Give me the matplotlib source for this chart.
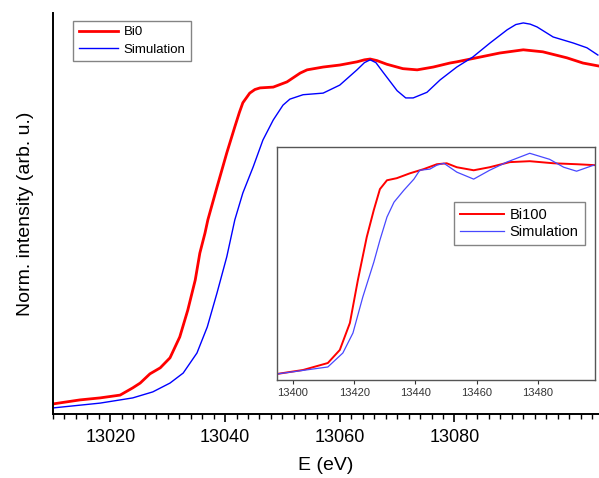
"""Bi L3-edge XANES: Bi0 vs simulation, with Bi100 inset."""

import matplotlib

matplotlib.use("Agg")
import matplotlib.pyplot as plt
import numpy as np

plt.rcParams["font.family"] = ["Liberation Sans", "DejaVu Sans"]

# main panel: Bi0 measured
bi0_e = [13010.0, 13014.7, 13018.2, 13021.7, 13023.9, 13025.2, 13026.9, 13028.7,
         13030.4, 13032.1, 13033.5, 13034.8, 13035.6, 13036.5, 13037.0, 13038.6,
         13040.3, 13041.7, 13042.5, 13043.1, 13044.3, 13045.2, 13046.1, 13048.4,
         13050.8, 13053.1, 13054.3, 13057.1, 13060.0, 13063.0, 13064.3, 13065.3,
         13066.5, 13068.2, 13071.0, 13073.5, 13076.3, 13079.2, 13080.4, 13084.5,
         13087.9, 13092.0, 13095.4, 13099.6, 13102.4, 13105.0]
bi0_i = [0.025, 0.035, 0.040, 0.047, 0.065, 0.077, 0.100, 0.115,
         0.140, 0.192, 0.259, 0.334, 0.401, 0.451, 0.484, 0.566,
         0.651, 0.716, 0.752, 0.776, 0.800, 0.809, 0.813, 0.815,
         0.828, 0.850, 0.858, 0.865, 0.870, 0.878, 0.883, 0.885,
         0.881, 0.872, 0.861, 0.858, 0.865, 0.875, 0.878, 0.890,
         0.900, 0.908, 0.903, 0.888, 0.875, 0.868]

# main panel: simulation
sim0_e = [13010.0, 13018.2, 13023.9, 13027.4, 13030.4, 13032.7, 13035.1, 13036.9,
          13038.6, 13040.3, 13041.7, 13043.1, 13044.9, 13046.6, 13048.4, 13050.1,
          13051.3, 13053.6, 13057.1, 13060.0, 13063.0, 13064.3, 13065.3, 13066.3,
          13067.5, 13070.0, 13071.5, 13072.8, 13075.2, 13077.5, 13080.4, 13083.2,
          13086.2, 13089.2, 13090.7, 13092.0, 13093.2, 13094.4, 13097.2, 13100.7,
          13103.1, 13105.0]
sim0_i = [0.015, 0.027, 0.040, 0.055, 0.077, 0.102, 0.152, 0.217,
          0.302, 0.392, 0.484, 0.551, 0.616, 0.683, 0.733, 0.770,
          0.785, 0.796, 0.800, 0.820, 0.858, 0.876, 0.883, 0.876,
          0.853, 0.806, 0.788, 0.788, 0.802, 0.833, 0.865, 0.890,
          0.925, 0.958, 0.971, 0.975, 0.972, 0.965, 0.940, 0.925,
          0.913, 0.895]

# inset: Bi100 measured
bi100_e = [13394.8, 13403.3, 13411.4, 13415.3, 13418.6, 13421.2, 13424.1, 13426.4,
           13428.4, 13430.7, 13433.9, 13438.2, 13442.7, 13447.0, 13450.2, 13453.5,
           13459.0, 13464.2, 13470.8, 13477.3, 13485.1, 13492.6, 13498.5]
bi100_i = [0.026, 0.043, 0.073, 0.129, 0.245, 0.429, 0.614, 0.730,
           0.820, 0.858, 0.867, 0.888, 0.906, 0.927, 0.931, 0.914,
           0.901, 0.914, 0.936, 0.940, 0.931, 0.927, 0.923]

# inset: simulation
sim100_e = [13394.8, 13411.4, 13416.3, 13419.6, 13422.8, 13426.4, 13428.4, 13430.7,
            13433.0, 13436.2, 13439.5, 13441.4, 13444.7, 13447.0, 13449.3, 13453.5,
            13459.0, 13464.2, 13469.8, 13477.3, 13483.8, 13488.4, 13492.6, 13498.2]
sim100_i = [0.026, 0.056, 0.116, 0.202, 0.356, 0.506, 0.601, 0.700,
            0.764, 0.815, 0.863, 0.901, 0.906, 0.923, 0.931, 0.893,
            0.863, 0.901, 0.936, 0.974, 0.948, 0.914, 0.897, 0.923]

main_ticks = [13020, 13040, 13060, 13080]
inset_ticks = [13400, 13420, 13440, 13460, 13480]

fig = plt.figure(figsize=(5.99, 4.78), dpi=100)
ax = fig.add_axes([0.0885, 0.134, 0.9115, 0.839])
ax.plot(bi0_e, bi0_i, color="#ff0000", lw=2.0, label="Bi0")
ax.plot(sim0_e, sim0_i, color="#0000ff", lw=1.0, label="Simulation")
ax.set_xlim(13010, 13105.2)
ax.set_ylim(0, 1)
ax.set_xticks(main_ticks)
ax.set_xticks(np.arange(13010, 13106, 2), minor=True)
ax.set_yticks([])
for side in ("top", "right"):
    ax.spines[side].set_visible(False)
for side in ("left", "bottom"):
    ax.spines[side].set_linewidth(1.4)
ax.tick_params(axis="x", which="major", direction="out", length=6, width=1.2,
               labelsize=13, pad=5)
ax.tick_params(axis="x", which="minor", direction="out", length=3.5, width=1.0)
ax.set_xlabel("E (eV)", fontsize=14, labelpad=8)
ax.set_ylabel("Norm. intensity (arb. u.)", fontsize=14, labelpad=14)
leg = ax.legend(loc="upper left", bbox_to_anchor=(0.025, 0.997), fontsize=9.5,
                frameon=True, fancybox=False, handlelength=3.0, borderpad=0.4,
                labelspacing=0.4, handletextpad=0.4)
leg.get_frame().set_edgecolor("#666666")
leg.get_frame().set_linewidth(1.0)

axin = fig.add_axes([0.4624, 0.205, 0.5309, 0.487])
axin.plot(bi100_e, bi100_i, color="#ff0000", lw=1.4, label="Bi100")
axin.plot(sim100_e, sim100_i, color="#4848ff", lw=0.9, label="Simulation")
axin.set_xlim(13394.8, 13498.6)
axin.set_ylim(0, 1)
axin.set_xticks(inset_ticks)
axin.set_yticks([])
for sp in axin.spines.values():
    sp.set_color("#555555")
    sp.set_linewidth(1.0)
axin.tick_params(axis="x", direction="out", length=3, width=0.8,
                 labelsize=8, pad=3, colors="#333333")
lin = axin.legend(loc="upper right", bbox_to_anchor=(0.99, 0.795), fontsize=10.5,
                  frameon=True, fancybox=False, handlelength=3.0, borderpad=0.4,
                  labelspacing=0.2, handletextpad=0.4)
lin.get_frame().set_edgecolor("#666666")
lin.get_frame().set_linewidth(1.0)

fig.savefig("out.png", dpi=100)
